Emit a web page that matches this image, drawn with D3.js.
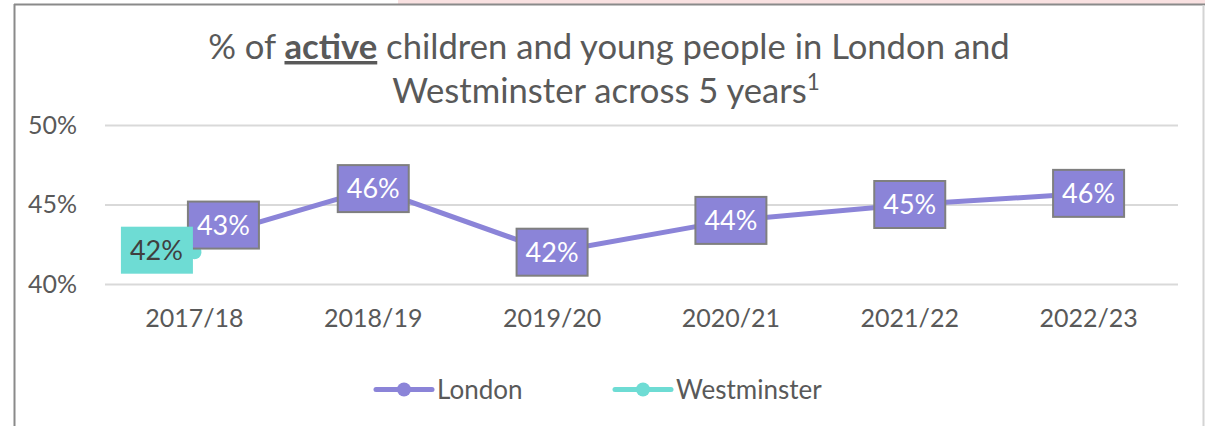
<!DOCTYPE html>
<html>
<head>
<meta charset="utf-8">
<script src="https://cdn.jsdelivr.net/npm/d3@7"></script>
<style>
  html, body { margin: 0; padding: 0; background: #fff; }
  svg { display: block; font-family: Lato, "Noto Sans", sans-serif; }
</style>
</head>
<body>
<svg id="chart" width="1205" height="426"></svg>
<script>
// ---- data ----
const categories = ["2017/18", "2018/19", "2019/20", "2020/21", "2021/22", "2022/23"];
const londonValues = [42.7, 46.0, 42.0, 44.0, 45.0, 45.7];
const westminsterValues = [42.0, null, null, null, null, null];
const yTicks = [40, 45, 50];
const seriesNames = ["London", "Westminster"];

// ---- drawing ----
const W = 1205, H = 426;
const svg = d3.select("#chart");
const londonColor = "#8B84D8";
const westColor = "#6EDCD4";
const textColor = "#595959";

// top pink band and frame
svg.append("rect").attr("x", 398).attr("y", 0).attr("width", W - 398).attr("height", 4).attr("fill", "#F9E1E1");
svg.append("line").attr("x1", 14).attr("x2", W).attr("y1", 4.5).attr("y2", 4.5).attr("stroke", "#8a8a8a").attr("stroke-width", 2);
svg.append("line").attr("x1", 14.5).attr("x2", 14.5).attr("y1", 4).attr("y2", H).attr("stroke", "#8a8a8a").attr("stroke-width", 2);
svg.append("line").attr("x1", 1203.5).attr("x2", 1203.5).attr("y1", 5).attr("y2", H).attr("stroke", "#d4d4d4").attr("stroke-width", 2);

const x = d3.scaleBand().domain(categories).range([105, 1178]);
const cx = d => x(d) + x.bandwidth() / 2;
const y = d3.scaleLinear().domain([40, 50]).range([284, 125]);

// gridlines + y labels via axis
const yAxis = d3.axisLeft(y).tickValues(yTicks).tickSize(-(1178 - 105)).tickFormat(d => d + "%").tickPadding(28);
const gy = svg.append("g").attr("transform", "translate(105,0)").call(yAxis);
gy.select(".domain").remove();
gy.selectAll(".tick line").attr("stroke", "#d9d9d9").attr("stroke-width", 2);
gy.selectAll(".tick text").attr("fill", textColor).attr("font-size", 25).attr("font-family", "Lato");

// x axis labels
const xAxis = d3.axisBottom(x).tickSize(0).tickPadding(0);
const gx = svg.append("g").attr("transform", "translate(0,309)").call(xAxis);
gx.select(".domain").remove();
gx.selectAll(".tick text").attr("fill", textColor).attr("font-size", 25).attr("font-family", "Lato").attr("dy", "0.71em");

// title
const title = svg.append("text").attr("text-anchor", "middle").attr("fill", textColor).attr("font-family", "Lato");
const t1 = title.append("tspan").attr("x", 609).attr("y", 59);
t1.append("tspan").text("% of ");
t1.append("tspan").text("active").attr("font-weight", "bold").style("text-decoration", "underline");
t1.append("tspan").text(" children and young people in London and");
const t2 = title.append("tspan").attr("x", 606).attr("y", 103);
t2.append("tspan").text("Westminster across 5 years");
t2.append("tspan").text("1").attr("font-size", "0.65em").attr("baseline-shift", "super");
title.attr("font-size", 30);
// fit to reference width of the first line
const w1 = t1.node().getComputedTextLength();
title.attr("font-size", 30 * 802 / w1);

// lines
const line = d3.line().defined(d => d.v != null).x(d => cx(d.c)).y(d => y(d.v));
const lonData = categories.map((c, i) => ({ c, v: londonValues[i] }));
const westData = categories.map((c, i) => ({ c, v: westminsterValues[i] }));

svg.append("path").datum(lonData).attr("d", line).attr("fill", "none").attr("stroke", londonColor)
  .attr("stroke-width", 5).attr("stroke-linejoin", "round").attr("stroke-linecap", "round");

// markers
svg.append("g").selectAll("circle").data(westData.filter(d => d.v != null)).join("circle")
  .attr("cx", d => cx(d.c)).attr("cy", d => y(d.v)).attr("r", 7).attr("fill", westColor);
svg.append("g").selectAll("circle").data(lonData).join("circle")
  .attr("cx", d => cx(d.c)).attr("cy", d => y(d.v)).attr("r", 7).attr("fill", londonColor);

// data labels
const boxW = 71, boxH = 47;
const londonLabelShift = [[29, -16], [0, 0], [0, 0], [0, 0], [0, 0], [0, 0]];
const westLabelShift = [[-38, -2]];

const lg = svg.append("g").selectAll("g").data(lonData).join("g")
  .attr("transform", (d, i) => `translate(${cx(d.c) + londonLabelShift[i][0]},${y(d.v) + londonLabelShift[i][1]})`);
lg.append("rect").attr("x", -boxW / 2).attr("y", -boxH / 2).attr("width", boxW).attr("height", boxH)
  .attr("fill", londonColor).attr("stroke", "#7f7f7f").attr("stroke-width", 2);
lg.append("text").attr("text-anchor", "middle").attr("dy", "0.36em").attr("fill", "#fff")
  .attr("font-size", 27).attr("font-family", "Lato").text(d => Math.round(d.v) + "%");

const wg = svg.append("g").selectAll("g").data(westData.filter(d => d.v != null)).join("g")
  .attr("transform", (d, i) => `translate(${cx(d.c) + westLabelShift[i][0]},${y(d.v) + westLabelShift[i][1]})`);
wg.append("rect").attr("x", -boxW / 2).attr("y", -boxH / 2).attr("width", boxW + 1).attr("height", boxH)
  .attr("fill", westColor);
wg.append("text").attr("text-anchor", "middle").attr("dy", "0.36em").attr("fill", "#404040")
  .attr("font-size", 27).attr("font-family", "Lato").text(d => Math.round(d.v) + "%");

// legend
const legendX = [376, 615];
const legendColors = [londonColor, westColor];
const leg = svg.append("g").selectAll("g").data(seriesNames).join("g")
  .attr("transform", (d, i) => `translate(${legendX[i]},389.5)`);
leg.append("line").attr("x1", 0).attr("x2", 56).attr("stroke", (d, i) => legendColors[i])
  .attr("stroke-width", 5).attr("stroke-linecap", "round");
leg.append("circle").attr("cx", 28).attr("r", 7).attr("fill", (d, i) => legendColors[i]);
leg.append("text").attr("x", 61).attr("dy", "0.36em").attr("fill", textColor).attr("font-size", 26)
  .attr("font-family", "Lato").text(d => d);
</script>
</body>
</html>
